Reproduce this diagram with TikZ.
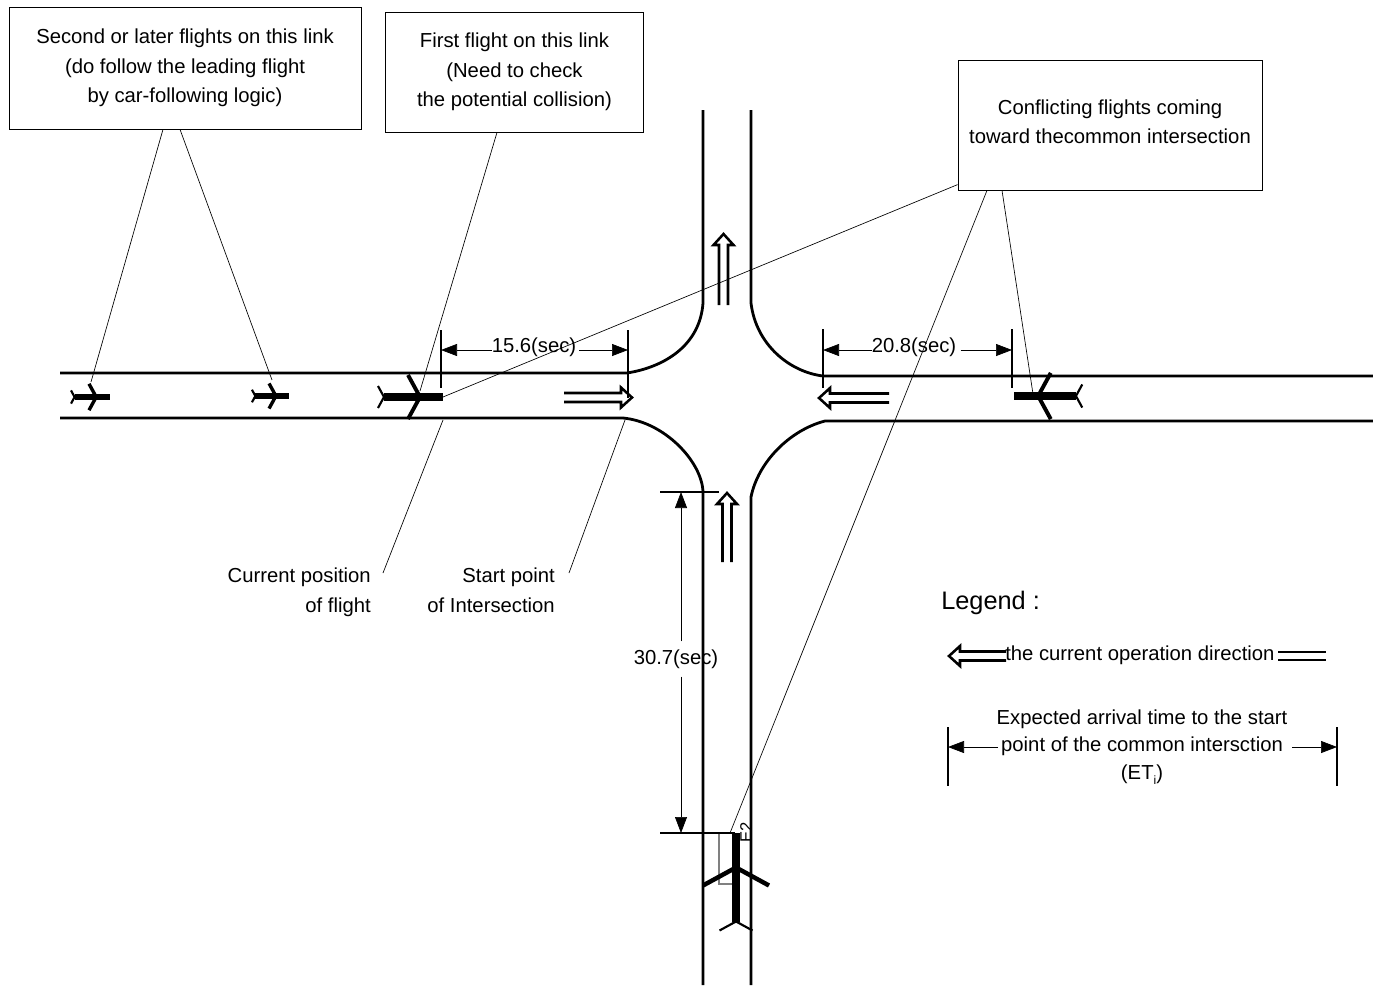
\documentclass[tikz,border=0pt]{standalone}
\usepackage{fontspec}
\setmainfont{Liberation Sans}
\usetikzlibrary{arrows.meta}
\tikzset{
    plane/.pic={
		\draw[line width=1.6pt] (-65*#1,11*#1) -- (-59*#1,0) -- (-65*#1,-11*#1);
		\draw[line width=2pt+0.9pt*#1] (-35*#1,22*#1) -- (-23*#1,0) -- (-35*#1,-22*#1);
		\draw[line width=3.4pt+2.2pt*#1] (-59*#1,0) -- (0,0);
	}
}
\tikzset{
    twinArrow/.pic={
		\draw[line width=1.9pt] (0,4.5) -- (#1,4.5) -- (#1,10) -- (#1+11,0) -- (#1,-10) -- (#1,-4.5) -- (0,-4.5);
	}
}
\tikzset{
    road/.style={line width=2.1pt},
    leader/.style={line width=0.5pt},
    tick/.style={line width=1pt},
    dimline/.style={line width=0.5pt,-{Triangle[length=12pt,width=9pt]}},
    callout/.style={draw,line width=0.6pt,align=center,font=\mainlabel},
    textlabel/.style={align=right,font=\mainlabel,inner sep=0pt},
}
\newcommand{\mainlabel}{\fontsize{15.2}{22}\selectfont}
\begin{document}
\begin{tikzpicture}[x=0.75pt,y=-0.75pt]
			\useasboundingbox (0,0) rectangle (1373,985);
			% roads
			\draw[road] (703,110) -- (703,303) .. controls (700,345) and (665,367) .. (627,373) -- (60,373);
			\draw[road] (751,110) -- (751,303) .. controls (756,345) and (790,372) .. (823,376) -- (1373,376);
			\draw[road] (60,418) -- (623,418) .. controls (665,422) and (702,462) .. (703,492) -- (703,985);
			\draw[road] (1373,421) -- (825,421) .. controls (790,430) and (758,462) .. (751,497) -- (751,985);
			% direction arrows
			\pic[rotate=90] at (723.5,305) {twinArrow={60}};
			\pic[rotate=90] at (727,562) {twinArrow={58}};
			\pic at (564,397.5) {twinArrow={57}};
			\pic[rotate=180] at (889,398) {twinArrow={59}};
			% flights
			\node[font=\fontsize{12.5}{14}\selectfont,rotate=90,inner sep=0pt] (tagE) at (746,832) {E2};
			\draw[gray,line width=0.9pt] (719,833) -- (719,884) -- (732,884);
			\pic at (110,397) {plane={0.6}};
			\pic at (289,396) {plane={0.57}};
			\pic at (443,397) {plane={1}};
			\pic[rotate=180] at (1014,396) {plane={1.05}};
			\pic[rotate=90] at (736,833) {plane={1.5}};
			\coordinate (flightA) at (91,382);
			\coordinate (flightB) at (272,380);
			\coordinate (flightC) at (420,391);
			\coordinate (flightD) at (443,397);
			\coordinate (flightE) at (730,833);
			\coordinate (flightF) at (1033,394);
			\coordinate (posC) at (443,420);
			\coordinate (posI) at (625,420);
			% callouts
			\node[callout,minimum width=264pt,minimum height=91.5pt] (box1) at (185,68) {Second or later flights on this link\\(do follow the leading flight\\by car-following logic)};
			\node[callout,minimum width=194pt,minimum height=90pt] (box2) at (514.5,72) {First flight on this link\\(Need to check\\the potential collision)};
			\node[callout,minimum width=228pt,minimum height=97.5pt,text depth=5.5pt] (box3) at (1110,125) {Conflicting flights coming\\toward thecommon intersection};
			\draw[leader] ([shift={(-22,0)}]box1.south) -- (flightA);
			\draw[leader] ([shift={(-5,0)}]box1.south) -- (flightB);
			\draw[leader] ([shift={(-17.5,0)}]box2.south) -- (flightC);
			\draw[leader] ([shift={(0,125)}]box3.north west) -- (flightD);
			\draw[leader] ([shift={(-123,0)}]box3.south) -- (flightE);
			\draw[leader] ([shift={(-108,0)}]box3.south) -- (flightF);
			\node[textlabel,anchor=north east] (lblCurrent) at (371,568) {Current position\\of flight};
			\node[textlabel,anchor=north east] (lblStart) at (555,568) {Start point\\of Intersection};
			\draw[leader] (posC) -- (383,573);
			\draw[leader] (posI) -- (569,573);
			% time spans
			\draw[tick] (441,330) -- (441,388);
			\draw[tick] (628,330) -- (628,398);
			\coordinate (spanAl) at (441,350);
			\coordinate (spanAr) at (628,350);
			\node[font=\mainlabel,inner sep=0pt] (spanA) at (534,347) {15.6(sec)};
			\draw[dimline] (spanA.west |- spanAl) -- (spanAl);
			\draw[dimline] ([xshift=2pt]spanA.east |- spanAr) -- (spanAr);
			\draw[tick] (823,329) -- (823,388);
			\draw[tick] (1012,329) -- (1012,388);
			\coordinate (spanBl) at (823,350);
			\coordinate (spanBr) at (1012,350);
			\node[font=\mainlabel,inner sep=0pt] (spanB) at (914,347) {20.8(sec)};
			\draw[dimline] (spanB.west |- spanBl) -- (spanBl);
			\draw[dimline] ([xshift=3pt]spanB.east |- spanBr) -- (spanBr);
			\draw[tick] (660,492) -- (719,492);
			\draw[tick] (660,833) -- (735,833);
			\coordinate (spanCt) at (681,492);
			\coordinate (spanCb) at (681,833);
			\node[font=\mainlabel,inner sep=0pt] (spanC) at (676,659) {30.7(sec)};
			\draw[dimline] ([yshift=6pt]spanCt |- spanC.north) -- (spanCt);
			\draw[dimline] ([yshift=-6pt]spanCb |- spanC.south) -- (spanCb);
			% legend
			\node[font=\fontsize{19}{22}\selectfont,anchor=west,inner sep=0pt] (legendTitle) at (941,603) {Legend :};
			\node[font=\mainlabel,anchor=west,inner sep=0pt] (legendDir) at (1005,655) {the current operation direction};
			\pic[rotate=180] at (1006,656) {twinArrow={46}};
			\draw[line width=1.9pt] (1278,652) -- (1326,652);
			\draw[line width=1.9pt] (1278,660) -- (1326,660);
			\draw[tick] (948,727) -- (948,786);
			\draw[tick] (1337,727) -- (1337,786);
			\coordinate (legendL) at (948,747);
			\coordinate (legendR) at (1337,747);
			\node[font=\fontsize{15.2}{20.6}\selectfont,align=center,inner sep=0pt] (legendSpan) at (1142,747) {Expected arrival time to the start\\point of the common intersction\\(ET\raisebox{-0.5ex}{\fontsize{9}{9}\selectfont i})};
			\draw[dimline] (998,747) -- (legendL);
			\draw[dimline] (1292,747) -- (legendR);
	\end{tikzpicture}
\end{document}
